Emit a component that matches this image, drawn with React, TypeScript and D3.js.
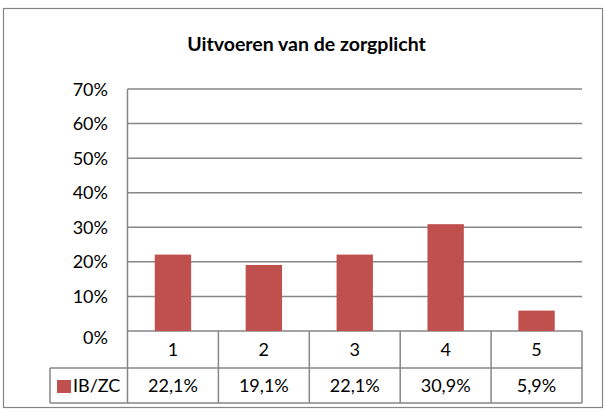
import * as d3 from "d3";
import React from "react";

const categories = ["1", "2", "3", "4", "5"];
const values = [22.1, 19.1, 22.1, 30.9, 5.9];
const valueLabels = ["22,1%", "19,1%", "22,1%", "30,9%", "5,9%"];
const yTicks = [0, 10, 20, 30, 40, 50, 60, 70];
const seriesName = "IB/ZC";
const title = "Uitvoeren van de zorgplicht";

const W = 606;
const H = 412;
const left = 127.5;
const right = 582;
const top = 89;
const bottom = 331;
const row1 = 368;
const row2 = 403;
const tableLeft = 50;
const red = "#C0504D";
const grid = "#868686";
const font = "Lato, 'Noto Sans', sans-serif";

export default function App() {
  const x = d3.scaleBand<string>().domain(categories).range([left, right]).paddingInner(0).paddingOuter(0);
  const y = d3.scaleLinear().domain([0, 70]).range([bottom, top]);
  const bw = x.bandwidth() * 0.4;

  return (
    <svg width={W} height={H} style={{ position: "absolute", left: 0, top: 0 }} fontFamily={font}>
      <rect x={3.5} y={8.5} width={599} height={399} fill="#fff" stroke={grid} strokeWidth={1.2} />
      <text x={306.5} y={51} textAnchor="middle" fontSize={19.5} fontWeight="bold" fill="#000">
        {title}
      </text>
      {yTicks.map((t) => (
        <g key={t}>
          <line x1={left} x2={right} y1={y(t)} y2={y(t)} stroke={grid} strokeWidth={1.5} />
          <text x={108} y={y(t) + (t === 0 ? 12.5 : 6.5)} textAnchor="end" fontSize={18} fill="#000">
            {t}%
          </text>
        </g>
      ))}
      <line x1={left} x2={left} y1={top} y2={bottom} stroke={grid} strokeWidth={1.5} />
      {categories.map((c, i) => (
        <rect key={c} x={x(c)! + (x.bandwidth() - bw) / 2} y={y(values[i])} width={bw} height={bottom - y(values[i])} fill={red} />
      ))}
      {/* data table */}
      <g stroke={grid} strokeWidth={1.5} fill="none">
        <line x1={tableLeft} x2={right} y1={row1} y2={row1} />
        <line x1={tableLeft} x2={right} y1={row2} y2={row2} />
        <line x1={tableLeft} x2={tableLeft} y1={row1} y2={row2} />
        {categories.map((c) => (
          <line key={c} x1={x(c)!} x2={x(c)!} y1={bottom} y2={row2} />
        ))}
        <line x1={right} x2={right} y1={bottom} y2={row2} />
      </g>
      {categories.map((c, i) => (
        <g key={c}>
          <text x={x(c)! + x.bandwidth() / 2} y={(bottom + row1) / 2 + 6.5} textAnchor="middle" fontSize={18} fill="#000">
            {c}
          </text>
          <text x={x(c)! + x.bandwidth() / 2} y={(row1 + row2) / 2 + 6.5} textAnchor="middle" fontSize={18} fill="#000">
            {valueLabels[i]}
          </text>
        </g>
      ))}
      <rect x={57} y={380} width={14} height={13} fill={red} />
      <text x={73} y={(row1 + row2) / 2 + 6.5} fontSize={18} fill="#000">
        {seriesName}
      </text>
    </svg>
  );
}
